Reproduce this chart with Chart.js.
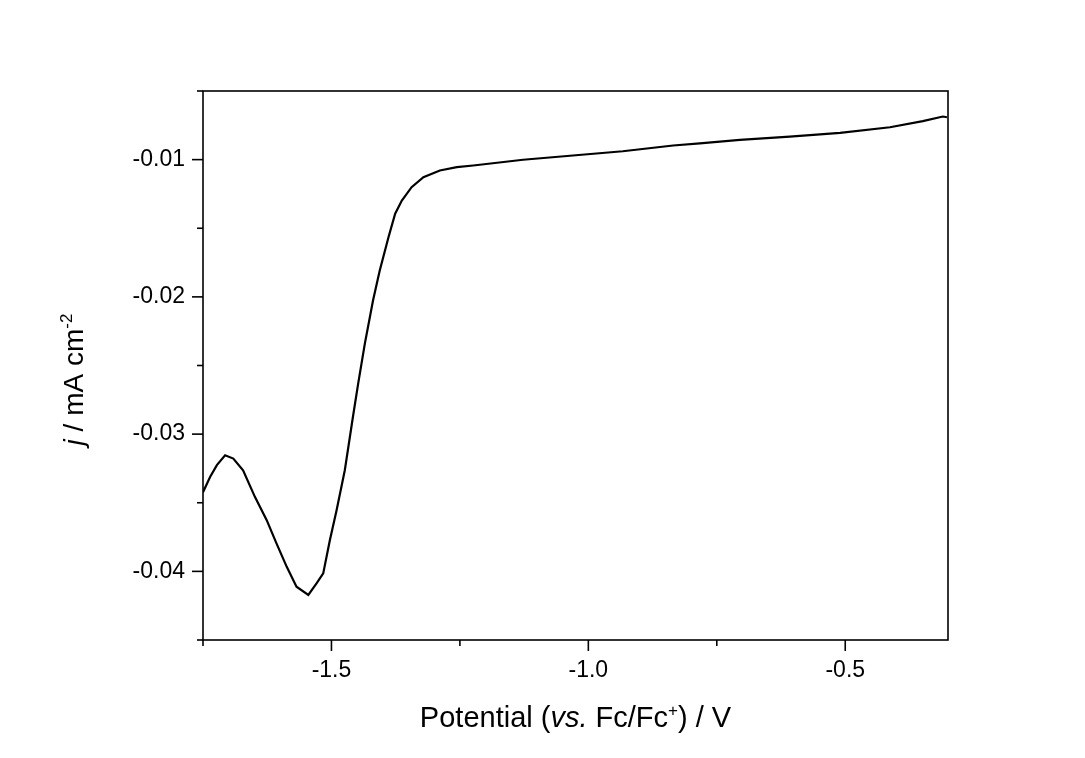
<!DOCTYPE html>
<html>
<head>
<meta charset="utf-8">
<script src="https://cdn.jsdelivr.net/npm/chart.js@4/dist/chart.umd.min.js"></script>
<style>
  html, body { margin: 0; padding: 0; background: #fff; }
  #wrap { width: 1085px; height: 758px; position: relative; }
</style>
</head>
<body>
<div id="wrap"><canvas id="lsv"></canvas></div>
<script>
// ---------------- Data ----------------
const POTENTIAL = [
  -1.750, -1.736, -1.723, -1.707, -1.691, -1.672, -1.649, -1.626, -1.607, -1.587,
  -1.568, -1.545, -1.529, -1.516, -1.503, -1.490, -1.474, -1.458, -1.448, -1.435,
  -1.419, -1.406, -1.389, -1.376, -1.363, -1.344, -1.321, -1.289, -1.256, -1.224,
  -1.127, -1.030, -0.933, -0.835, -0.783, -0.705, -0.608, -0.510, -0.413, -0.349,
  -0.310, -0.302
];
const CURRENT = [
  -0.03423, -0.03311, -0.03226, -0.03154, -0.03178, -0.03263, -0.03457, -0.03627, -0.03796, -0.03967,
  -0.04112, -0.04172, -0.04087, -0.04015, -0.03772, -0.03554, -0.03263, -0.02870, -0.02632, -0.02341,
  -0.02025, -0.01807, -0.01565, -0.01394, -0.01298, -0.01201, -0.01128, -0.01079, -0.01055, -0.01043,
  -0.01001, -0.00970, -0.00939, -0.00897, -0.00881, -0.00856, -0.00832, -0.00805, -0.00764, -0.00720,
  -0.00686, -0.00691
];

const X_MAJOR = [-1.5, -1.0, -0.5];
const X_MINOR = [-1.75, -1.25, -0.75];
const Y_MAJOR = [-0.04, -0.03, -0.02, -0.01];
const Y_MINOR = [-0.045, -0.035, -0.025, -0.015, -0.005];

const FONT = "'Liberation Sans', Arial, sans-serif";
const INK = "#000";

// ---------------- rich text helper ----------------
function drawRich(ctx, parts, size, cx, baseY) {
  const fontFor = p => `${p.italic ? "italic " : ""}${p.sup ? Math.round(size * 0.6) : size}px ${FONT}`;
  let total = 0;
  parts.forEach(p => { ctx.font = fontFor(p); total += ctx.measureText(p.t).width; });
  let x = cx - total / 2;
  ctx.textAlign = "left";
  ctx.textBaseline = "alphabetic";
  parts.forEach(p => {
    ctx.font = fontFor(p);
    ctx.fillText(p.t, x, p.sup ? baseY - size * 0.38 : baseY);
    x += ctx.measureText(p.t).width;
  });
}

// ---------------- frame, ticks, titles ----------------
const framePlugin = {
  id: "frame",
  afterDraw(chart) {
    const { ctx, chartArea: a, scales: { x, y } } = chart;
    ctx.save();
    ctx.strokeStyle = INK;
    ctx.fillStyle = INK;
    ctx.lineWidth = 1.6;
    ctx.strokeRect(a.left, a.top, a.right - a.left, a.bottom - a.top);

    const xTick = (v, len) => {
      const px = x.getPixelForValue(v);
      ctx.beginPath(); ctx.moveTo(px, a.bottom); ctx.lineTo(px, a.bottom + len); ctx.stroke();
    };
    const yTick = (v, len) => {
      const py = y.getPixelForValue(v);
      ctx.beginPath(); ctx.moveTo(a.left, py); ctx.lineTo(a.left - len, py); ctx.stroke();
    };
    X_MAJOR.forEach(v => xTick(v, 11));
    X_MINOR.forEach(v => xTick(v, 6));
    Y_MAJOR.forEach(v => yTick(v, 11));
    Y_MINOR.forEach(v => yTick(v, 6));

    // x title
    drawRich(ctx, [
      { t: "Potential (" }, { t: "vs.", italic: true }, { t: " Fc/Fc" },
      { t: "+", sup: true }, { t: ") / V" }
    ], 29, (a.left + a.right) / 2, a.bottom + 87);

    // y title (rotated)
    ctx.translate(83, (a.top + a.bottom) / 2 + 14);
    ctx.rotate(-Math.PI / 2);
    drawRich(ctx, [
      { t: "j", italic: true }, { t: " / mA cm" }, { t: "-2", sup: true }
    ], 28, 0, 0);
    ctx.restore();
  }
};

// ---------------- chart ----------------
new Chart(document.getElementById("lsv"), {
  type: "scatter",
  data: {
    datasets: [{
      data: POTENTIAL.map((v, i) => ({ x: v, y: CURRENT[i] })),
      showLine: true,
      borderColor: INK,
      borderWidth: 2.2,
      pointRadius: 0,
      tension: 0
    }]
  },
  options: {
    responsive: true,
    maintainAspectRatio: false,
    animation: false,
    layout: { padding: { left: 0, top: 91, right: 137, bottom: 0 } },
    plugins: { legend: { display: false }, tooltip: { enabled: false } },
    scales: {
      x: {
        type: "linear", min: -1.75, max: -0.3,
        grid: { display: false, tickLength: 0 }, border: { display: false },
        afterBuildTicks: s => { s.ticks = X_MAJOR.map(v => ({ value: v })); },
        afterFit: s => { s.height = 118; },
        ticks: { color: INK, padding: 17, maxRotation: 0, font: { family: FONT, size: 23 },
                 callback: v => v.toFixed(1) }
      },
      y: {
        type: "linear", min: -0.045, max: -0.005,
        grid: { display: false, tickLength: 0 }, border: { display: false },
        afterBuildTicks: s => { s.ticks = Y_MAJOR.map(v => ({ value: v })); },
        afterFit: s => { s.width = 203; },
        ticks: { color: INK, padding: 18, font: { family: FONT, size: 23 },
                 callback: v => v.toFixed(2) }
      }
    }
  },
  plugins: [framePlugin]
});
</script>
</body>
</html>
